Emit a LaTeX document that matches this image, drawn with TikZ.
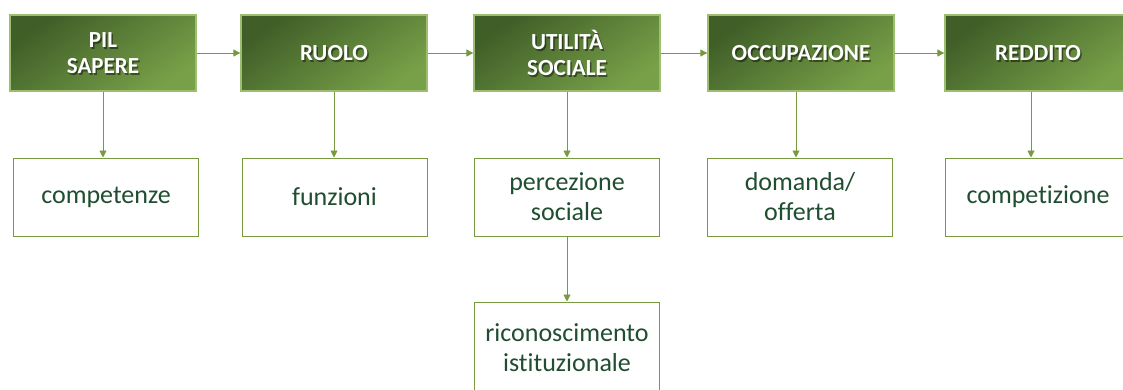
\documentclass[tikz,border=0pt]{standalone}
\usepackage{fontspec}
\setmainfont{Carlito}[Ligatures=NoCommon]
\usetikzlibrary{arrows.meta,calc}
\definecolor{gdark}{HTML}{3F5E28}
\definecolor{glight}{HTML}{78A048}
\definecolor{boxedge}{HTML}{9DBE6E}
\definecolor{lineg}{HTML}{77993F}
\definecolor{textg}{HTML}{1F4E30}
\tikzset{
  topbox/.style={draw=boxedge, line width=1.3pt, top color=gdark, bottom color=glight, shading angle=35,
    minimum width=186pt, minimum height=76pt, inner sep=0pt},
  toptext/.style={text=white, font=\bfseries\fontsize{23}{26}\selectfont, align=center, inner sep=0pt},
  topshadow/.style={text=black, opacity=0.45, font=\bfseries\fontsize{23}{26}\selectfont, align=center, inner sep=0pt},
  lowbox/.style={draw=lineg, line width=1pt, fill=white, minimum width=185pt, minimum height=78pt,
    text=textg, font=\fontsize{26}{30}\selectfont, align=center, inner sep=0pt},
  conn/.style={draw=lineg, line width=0.9pt, -{Triangle[length=7pt,width=7pt]}}
}
\begin{document}
\begin{tikzpicture}[x=1pt,y=-1pt]
\useasboundingbox (0,0) rectangle (1123,389);
\clip (0,0) rectangle (1123,389);
% top row
\node[topbox] (t1) at (103,53) {};
\node[topbox] (t2) at (334,53) {};
\node[topbox] (t3) at (567,53) {};
\node[topbox] (t4) at (801,53) {};
\node[topbox] (t5) at (1038,53) {};
\node[topshadow] (s1) at ($(t1)+(1.5,1.8)$) {PIL\\SAPERE};
\node[toptext] (x1) at (t1) {PIL\\SAPERE};
\node[topshadow] (s2) at ($(t2)+(1.5,1.8)$) {RUOLO};
\node[toptext] (x2) at (t2) {RUOLO};
\node[topshadow] (s3) at ($(t3)+(1.5,1.8)$) {UTILITÀ\\SOCIALE};
\node[toptext] (x3) at (t3) {UTILITÀ\\SOCIALE};
\node[topshadow] (s4) at ($(t4)+(1.5,1.8)$) {OCCUPAZIONE};
\node[toptext] (x4) at (t4) {OCCUPAZIONE};
\node[topshadow] (s5) at ($(t5)+(1.5,1.8)$) {REDDITO};
\node[toptext] (x5) at (t5) {REDDITO};
% lower row
\node[lowbox] (l1) at (106,197) {competenze};
\node[lowbox] (l2) at (334.5,197) {funzioni};
\node[lowbox] (l3) at (567,197) {percezione\\sociale};
\node[lowbox] (l4) at (800,197) {domanda/\\offerta};
\node[lowbox] (l5) at (1038,197) {competizione};
\node[lowbox, minimum height=92pt] (b3) at (567,348) {riconoscimento\\istituzionale};
% connectors
\draw[conn] (t1.east) -- (t2.west);
\draw[conn] (t2.east) -- (t3.west);
\draw[conn] (t3.east) -- (t4.west);
\draw[conn] (t4.east) -- (t5.west);
\draw[conn] (t1.south) -- (t1.south |- l1.north);
\draw[conn] (t2.south) -- (t2.south |- l2.north);
\draw[conn] (t3.south) -- (t3.south |- l3.north);
\draw[conn] ([xshift=-5pt]t4.south) -- ([xshift=-5pt]t4.south |- l4.north);
\draw[conn] ([xshift=-7pt]t5.south) -- ([xshift=-7pt]t5.south |- l5.north);
\draw[conn] (l3.south) -- (b3.north);
\end{tikzpicture}
\end{document}
